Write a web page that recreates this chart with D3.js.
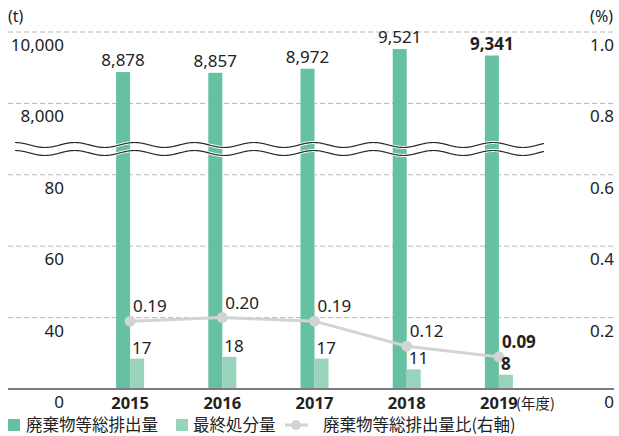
<!DOCTYPE html>
<html>
<head>
<meta charset="utf-8">
<script src="https://cdn.jsdelivr.net/npm/d3@7/dist/d3.min.js"></script>
<style>
  body { margin: 0; background: #fff; }
  svg text { font-family: "Noto Sans", "Noto Sans CJK JP", sans-serif; fill: #222; }
  svg text.jp { font-family: "Noto Sans CJK JP", "Noto Sans", sans-serif; }
</style>
</head>
<body>
<svg id="chart" width="619" height="436"></svg>
<script>
// data
const years = ['2015', '2016', '2017', '2018', '2019']
const totalWaste = [8878, 8857, 8972, 9521, 9341]
const finalDisposal = [17, 18, 17, 11, 8]
const wasteRatio = [0.19, 0.20, 0.19, 0.12, 0.09]
const leftTicksUpper = [8000, 10000]
const leftTicksLower = [0, 40, 60, 80]
const rightTicks = [0, 0.2, 0.4, 0.6, 0.8, 1.0]

const svg = d3.select('#chart')
const green = '#66c1a3'
const lightGreen = '#98d4bc'
const lineGray = '#d3d3d3'
const numSize = '17px'

// scales
const yR = d3.scaleLinear().domain([0, 1]).range([389, 32])
const yUp = d3.scaleLinear().domain([8000, 10000]).range([yR(0.8), yR(1.0)])
const yLow = d3.scaleLinear().domain([0, 40, 60, 80]).range([yR(0), yR(0.2), yR(0.4), yR(0.6)])
const x = d3.scaleBand().domain(years).range([84, 545]).padding(0)
const xc = d => x(d) + x.bandwidth() / 2
const barW = 14

// grid
svg.append('g').selectAll('line')
    .data(rightTicks.filter(t => t > 0))
    .join('line')
    .attr('x1', 8).attr('x2', 614)
    .attr('y1', d => yR(d)).attr('y2', d => yR(d))
    .attr('stroke', '#b8b8b8')
    .attr('stroke-width', 1)
    .attr('stroke-dasharray', '5,3')

// left ticks
svg.append('g').selectAll('text')
    .data(leftTicksUpper)
    .join('text')
    .attr('x', 64).attr('y', d => yUp(d) + 19)
    .attr('text-anchor', 'end')
    .style('font-size', numSize)
    .text(d => d3.format(',')(d))
svg.append('g').selectAll('text')
    .data(leftTicksLower)
    .join('text')
    .attr('x', 64).attr('y', d => yLow(d) + 19)
    .attr('text-anchor', 'end')
    .style('font-size', numSize)
    .text(d => d)

// right ticks
svg.append('g').selectAll('text')
    .data(rightTicks)
    .join('text')
    .attr('x', 614).attr('y', d => yR(d) + 19)
    .attr('text-anchor', 'end')
    .style('font-size', numSize)
    .text(d => d === 0 ? '0' : d.toFixed(1))

svg.append('text').attr('x', 8).attr('y', 22).style('font-size', '16px').text('(t)')
svg.append('text').attr('x', 613).attr('y', 22).attr('text-anchor', 'end').style('font-size', '16px').text('(%)')

// bars
const bars = svg.append('g')
bars.selectAll('rect.total')
    .data(years)
    .join('rect')
    .attr('class', 'total')
    .attr('x', d => xc(d) - barW)
    .attr('width', barW)
    .attr('y', (d, i) => yUp(totalWaste[i]))
    .attr('height', (d, i) => yR(0) - yUp(totalWaste[i]))
    .attr('fill', green)
bars.selectAll('rect.final')
    .data(years)
    .join('rect')
    .attr('class', 'final')
    .attr('x', d => xc(d))
    .attr('width', barW)
    .attr('y', (d, i) => yLow(finalDisposal[i]))
    .attr('height', (d, i) => yR(0) - yLow(finalDisposal[i]))
    .attr('fill', lightGreen)

// axis break waves
const waveX = d3.range(15, 544.5, 1)
const wave = cy => d3.line()
    .x(d => d)
    .y(d => cy - 2.5 * Math.cos(2 * Math.PI * (d - 15) / 59.75))
    .curve(d3.curveBasis)(waveX)
;[145, 153].forEach(cy => {
    svg.append('path').attr('d', wave(cy)).attr('fill', 'none').attr('stroke', '#fff').attr('stroke-width', 3)
})
;[145, 153].forEach(cy => {
    svg.append('path').attr('d', wave(cy)).attr('fill', 'none').attr('stroke', '#2a2a2a').attr('stroke-width', 1.2)
})

// baseline
svg.append('line')
    .attr('x1', 8).attr('x2', 614)
    .attr('y1', yR(0)).attr('y2', yR(0))
    .attr('stroke', '#7a7a7a').attr('stroke-width', 2)

// ratio line
const line = d3.line().x(d => xc(d.year)).y(d => yR(d.v))
const ratioData = years.map((y, i) => ({ year: y, v: wasteRatio[i] }))
svg.append('path')
    .datum(ratioData)
    .attr('d', line)
    .attr('fill', 'none')
    .attr('stroke', lineGray)
    .attr('stroke-width', 3)
svg.append('g').selectAll('circle')
    .data(ratioData)
    .join('circle')
    .attr('cx', d => xc(d.year)).attr('cy', d => yR(d.v))
    .attr('r', 5.5)
    .attr('fill', lineGray)

// value labels
const last = years.length - 1
svg.append('g').selectAll('text')
    .data(years)
    .join('text')
    .attr('x', d => xc(d) - barW / 2)
    .attr('y', (d, i) => yUp(totalWaste[i]) - 6)
    .attr('text-anchor', 'middle')
    .style('font-size', numSize)
    .style('font-weight', (d, i) => i === last ? 'bold' : 'normal')
    .text((d, i) => d3.format(',')(totalWaste[i]))

svg.append('g').selectAll('text')
    .data(ratioData)
    .join('text')
    .attr('x', d => xc(d.year) + 3)
    .attr('y', d => yR(d.v) - 9)
    .style('font-size', numSize)
    .style('font-weight', (d, i) => i === last ? 'bold' : 'normal')
    .text(d => d.v.toFixed(2))

svg.append('g').selectAll('text')
    .data(years)
    .join('text')
    .attr('x', d => xc(d) + 2)
    .attr('y', (d, i) => yLow(finalDisposal[i]) - 5)
    .style('font-size', numSize)
    .style('font-weight', (d, i) => i === last ? 'bold' : 'normal')
    .text((d, i) => finalDisposal[i])

// x axis labels
svg.append('g').selectAll('text')
    .data(years)
    .join('text')
    .attr('x', d => xc(d))
    .attr('y', 409)
    .attr('text-anchor', 'middle')
    .style('font-size', '16.5px')
    .style('font-weight', 'bold')
    .text(d => d)
svg.append('text').attr('class', 'jp').attr('x', 516).attr('y', 409).style('font-size', '14.5px').text('(年度)')

// legend
const lg = svg.append('g')
lg.append('rect').attr('x', 8).attr('y', 419).attr('width', 12).attr('height', 12).attr('fill', green)
lg.append('text').attr('class', 'jp').attr('x', 26).attr('y', 431).style('font-size', '16.5px').text('廃棄物等総排出量')
lg.append('rect').attr('x', 176).attr('y', 419).attr('width', 12).attr('height', 12).attr('fill', lightGreen)
lg.append('text').attr('class', 'jp').attr('x', 193).attr('y', 431).style('font-size', '16.5px').text('最終処分量')
lg.append('line').attr('x1', 285).attr('x2', 308).attr('y1', 425).attr('y2', 425).attr('stroke', lineGray).attr('stroke-width', 3)
lg.append('circle').attr('cx', 296).attr('cy', 425).attr('r', 5).attr('fill', lineGray)
lg.append('text').attr('class', 'jp').attr('x', 323).attr('y', 431).style('font-size', '16.5px').text('廃棄物等総排出量比(右軸)')
</script>
</body>
</html>
